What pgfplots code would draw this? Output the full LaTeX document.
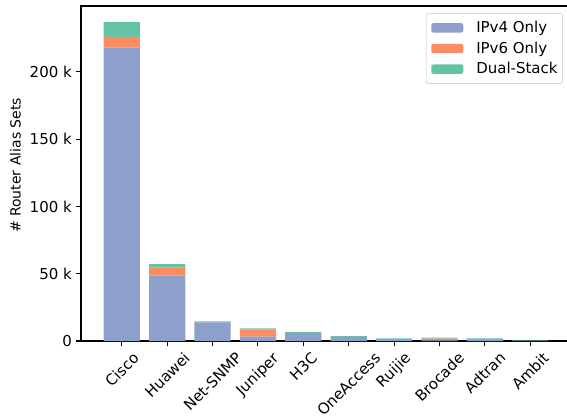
\documentclass[border=0pt]{standalone}
\usepackage{graphicx}
\usepackage{fontspec}
\setmainfont{DejaVu Sans}
\usepackage{pgfplots}
\pgfplotsset{compat=1.18}
\definecolor{cv4}{HTML}{8DA0CB}
\definecolor{cv6}{HTML}{FC8D62}
\definecolor{cds}{HTML}{66C2A5}
\begin{document}
\fontsize{15bp}{18bp}\selectfont
\begin{tikzpicture}
\path[use as bounding box, clip] (-81bp,-76bp) rectangle (486bp,341bp);
\begin{axis}[
  at={(0,0)}, anchor=south west,
  scale only axis, width=490bp, height=335bp,
  ybar stacked, bar width=0.8, bar shift=0pt,
  xmin=-0.9, xmax=9.9, ymin=0, ymax=249000,
  xtick={0,...,9},
  xticklabels={\rotatebox{45}{Cisco},\rotatebox{45}{Huawei},\rotatebox{45}{Net-SNMP},\rotatebox{45}{Juniper},\rotatebox{45}{H3C},\rotatebox{45}{OneAccess},\rotatebox{45}{Ruijie},\rotatebox{45}{Brocade},\rotatebox{45}{Adtran},\rotatebox{45}{Ambit}},
  xticklabel style={anchor=north, inner sep=0pt, yshift=-5bp},
  ytick={0,50000,100000,150000,200000},
  yticklabels={0,50 k,100 k,150 k,200 k},
  yticklabel style={inner sep=0pt, xshift=-4bp},
  scaled y ticks=false,
  /pgf/number format/assume math mode=true,
  tick align=outside,
  major tick length=5bp,
  tick style={black, line width=1.1bp},
  xtick pos=bottom, ytick pos=left,
  axis line style={line width=2bp},
  ylabel={\# Router Alias Sets},
  ylabel style={at={(rel axis cs:0,0.524)}, anchor=center, yshift=65.5bp, font=\fontsize{14bp}{17bp}\selectfont},
  legend cell align=left,
  legend style={at={(rel axis cs:0.9837,0.9787)}, anchor=north east,
    draw=black!15, rounded corners=2bp, fill=white, line width=0.8bp,
    font=\fontsize{15bp}{18bp}\selectfont,
    inner xsep=5bp, inner ysep=6.5bp, row sep=5bp, column sep=13bp,
    nodes={inner sep=0pt, inner ysep=1bp}},
  legend image code/.code={\path[#1, draw=none] (0bp,-4.7bp) rectangle (32bp,4.7bp);},
]
\addplot[fill=cv4, draw=none] coordinates {(0,218000) (1,48600) (2,13900) (3,3200) (4,5900) (5,3000) (6,800) (7,500) (8,600) (9,200)};
\addplot[fill=cv6, draw=none] coordinates {(0,8000) (1,6200) (2,0) (3,5500) (4,0) (5,0) (6,0) (7,1300) (8,0) (9,0)};
\addplot[fill=cds, draw=none] coordinates {(0,11000) (1,2400) (2,700) (3,700) (4,800) (5,700) (6,1200) (7,800) (8,1300) (9,200)};
\legend{IPv4 Only, IPv6 Only, Dual-Stack}
\end{axis}
\end{tikzpicture}
\end{document}
